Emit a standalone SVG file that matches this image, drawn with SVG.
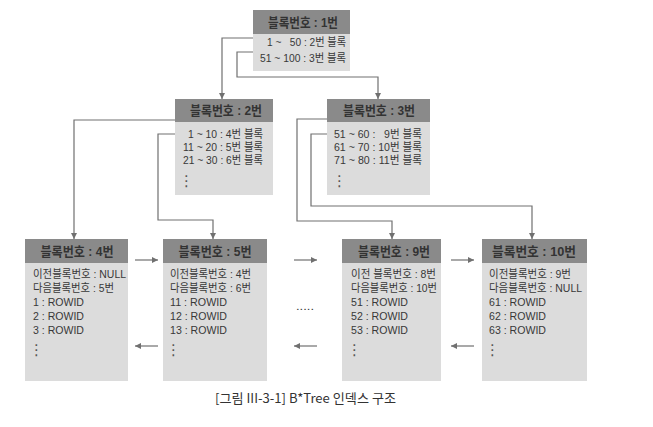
<svg xmlns="http://www.w3.org/2000/svg" width="653" height="427" viewBox="0 0 653 427">
<defs>
<style>
.hd{fill:#8a8a8a}
.bd{fill:#dcdcdc}
.ht{font-family:"Liberation Sans","Noto Sans CJK KR",sans-serif;font-size:13px;font-weight:bold;fill:#333333;text-anchor:middle}
.t{font-family:"Liberation Sans","Noto Sans CJK KR",sans-serif;font-size:11.5px;fill:#383838}
.dots{font-family:"DejaVu Sans",sans-serif;font-size:15px;fill:#555}
.c{fill:none;stroke:#707070;stroke-width:1.2}
.cap{font-family:"Noto Sans CJK KR","Noto Sans",sans-serif;font-size:13px;fill:#333}
</style>
<marker id="ah" viewBox="0 0 10 10" refX="10" refY="5" markerWidth="6" markerHeight="6" markerUnits="userSpaceOnUse" orient="auto">
<path d="M0,0 L10,5 L0,10 z" fill="#707070"/>
</marker>
</defs>
<rect width="653" height="427" fill="#ffffff"/>

<g id="connectors">
<path class="c" d="M253,38 H222 V99" marker-end="url(#ah)"/>
<path class="c" d="M253,52 H237 V77 H378 V99" marker-end="url(#ah)"/>
<path class="c" d="M175,120 H74 V239" marker-end="url(#ah)"/>
<path class="c" d="M175,134 H158 V220 H213 V239" marker-end="url(#ah)"/>
<path class="c" d="M327,119 H297 V221 H392 V239" marker-end="url(#ah)"/>
<path class="c" d="M327,134 H311 V206 H532 V239" marker-end="url(#ah)"/>
<path class="c" d="M135,260 H158" marker-end="url(#ah)"/>
<path class="c" d="M158,346 H135" marker-end="url(#ah)"/>
<path class="c" d="M294,260 H317" marker-end="url(#ah)"/>
<path class="c" d="M317,346 H294" marker-end="url(#ah)"/>
<path class="c" d="M451,260 H474" marker-end="url(#ah)"/>
<path class="c" d="M474,346 H451" marker-end="url(#ah)"/>
<text class="t" x="296" y="310" textLength="18" lengthAdjust="spacingAndGlyphs">.....</text>
</g>

<g id="node1">
<rect class="bd" x="253" y="10" width="97" height="61"/>
<rect class="hd" x="253" y="10" width="97" height="24"/>
<text class="ht" x="303" y="27" textLength="70" lengthAdjust="spacingAndGlyphs">블록번호 : 1번</text>
<text class="t" x="267" y="46" textLength="79" lengthAdjust="spacingAndGlyphs" xml:space="preserve">1 ~   50 : 2번 블록</text>
<text class="t" x="260" y="62" textLength="86" lengthAdjust="spacingAndGlyphs">51 ~ 100 : 3번 블록</text>
</g>

<g id="node2">
<rect class="bd" x="175" y="99" width="98" height="96"/>
<rect class="hd" x="175" y="99" width="98" height="23"/>
<text class="ht" x="226" y="115" textLength="72" lengthAdjust="spacingAndGlyphs">블록번호 : 2번</text>
<text class="t" x="188" y="138" textLength="75" lengthAdjust="spacingAndGlyphs">1 ~ 10 : 4번 블록</text>
<text class="t" x="183" y="151" textLength="80" lengthAdjust="spacingAndGlyphs">11 ~ 20 : 5번 블록</text>
<text class="t" x="183" y="164" textLength="80" lengthAdjust="spacingAndGlyphs">21 ~ 30 : 6번 블록</text>
<text class="dots" x="179" y="186">⋮</text>
</g>

<g id="node3">
<rect class="bd" x="327" y="99" width="103" height="96"/>
<rect class="hd" x="327" y="99" width="103" height="23"/>
<text class="ht" x="379" y="115" textLength="72" lengthAdjust="spacingAndGlyphs">블록번호 : 3번</text>
<text class="t" x="334" y="138" textLength="88" lengthAdjust="spacingAndGlyphs" xml:space="preserve">51 ~ 60 :   9번 블록</text>
<text class="t" x="334" y="151" textLength="88" lengthAdjust="spacingAndGlyphs">61 ~ 70 : 10번 블록</text>
<text class="t" x="334" y="164" textLength="88" lengthAdjust="spacingAndGlyphs">71 ~ 80 : 11번 블록</text>
<text class="dots" x="332" y="186">⋮</text>
</g>

<g id="leaf4">
<rect class="bd" x="25" y="239" width="103" height="142"/>
<rect class="hd" x="25" y="239" width="103" height="24"/>
<text class="ht" x="77" y="256" textLength="73" lengthAdjust="spacingAndGlyphs">블록번호 : 4번</text>
<text class="t" x="33" y="278" textLength="93" lengthAdjust="spacingAndGlyphs">이전블록번호 : NULL</text>
<text class="t" x="33" y="292" textLength="81" lengthAdjust="spacingAndGlyphs">다음블록번호 : 5번</text>
<text class="t" x="33" y="306" textLength="51" lengthAdjust="spacingAndGlyphs">1 : ROWID</text>
<text class="t" x="33" y="320" textLength="51" lengthAdjust="spacingAndGlyphs">2 : ROWID</text>
<text class="t" x="33" y="334" textLength="51" lengthAdjust="spacingAndGlyphs">3 : ROWID</text>
<text class="dots" x="29" y="355">⋮</text>
</g>

<g id="leaf5">
<rect class="bd" x="163" y="239" width="104" height="142"/>
<rect class="hd" x="163" y="239" width="104" height="24"/>
<text class="ht" x="215" y="256" textLength="73" lengthAdjust="spacingAndGlyphs">블록번호 : 5번</text>
<text class="t" x="170" y="278" textLength="81" lengthAdjust="spacingAndGlyphs">이전블록번호 : 4번</text>
<text class="t" x="170" y="292" textLength="81" lengthAdjust="spacingAndGlyphs">다음블록번호 : 6번</text>
<text class="t" x="170" y="306" textLength="57" lengthAdjust="spacingAndGlyphs">11 : ROWID</text>
<text class="t" x="170" y="320" textLength="57" lengthAdjust="spacingAndGlyphs">12 : ROWID</text>
<text class="t" x="170" y="334" textLength="57" lengthAdjust="spacingAndGlyphs">13 : ROWID</text>
<text class="dots" x="166" y="355">⋮</text>
</g>

<g id="leaf9">
<rect class="bd" x="342" y="239" width="99" height="142"/>
<rect class="hd" x="342" y="239" width="99" height="24"/>
<text class="ht" x="394" y="256" textLength="72" lengthAdjust="spacingAndGlyphs">블록번호 : 9번</text>
<text class="t" x="351" y="278" textLength="85" lengthAdjust="spacingAndGlyphs">이전 블록번호 : 8번</text>
<text class="t" x="351" y="292" textLength="86" lengthAdjust="spacingAndGlyphs">다음블록번호 : 10번</text>
<text class="t" x="351" y="306" textLength="57" lengthAdjust="spacingAndGlyphs">51 : ROWID</text>
<text class="t" x="351" y="320" textLength="57" lengthAdjust="spacingAndGlyphs">52 : ROWID</text>
<text class="t" x="351" y="334" textLength="57" lengthAdjust="spacingAndGlyphs">53 : ROWID</text>
<text class="dots" x="347" y="355">⋮</text>
</g>

<g id="leaf10">
<rect class="bd" x="482" y="239" width="105" height="142"/>
<rect class="hd" x="482" y="239" width="105" height="24"/>
<text class="ht" x="534" y="256" textLength="84" lengthAdjust="spacingAndGlyphs">블록번호 : 10번</text>
<text class="t" x="489" y="278" textLength="82" lengthAdjust="spacingAndGlyphs">이전블록번호 : 9번</text>
<text class="t" x="489" y="292" textLength="93" lengthAdjust="spacingAndGlyphs">다음블록번호 : NULL</text>
<text class="t" x="489" y="306" textLength="57" lengthAdjust="spacingAndGlyphs">61 : ROWID</text>
<text class="t" x="489" y="320" textLength="57" lengthAdjust="spacingAndGlyphs">62 : ROWID</text>
<text class="t" x="489" y="334" textLength="57" lengthAdjust="spacingAndGlyphs">63 : ROWID</text>
<text class="dots" x="485" y="355">⋮</text>
</g>

<text class="cap" x="215" y="403" textLength="181" lengthAdjust="spacingAndGlyphs">[그림 III-3-1] B*Tree 인덱스 구조</text>
</svg>
